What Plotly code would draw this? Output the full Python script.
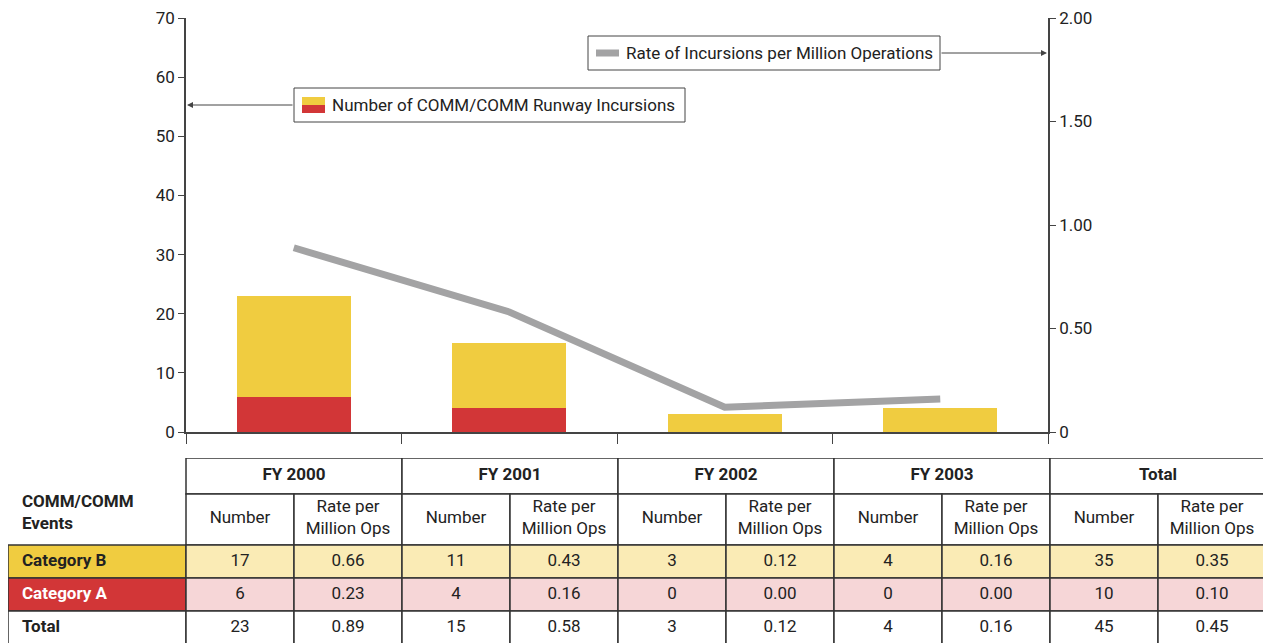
import plotly.graph_objects as go

years = ["FY 2000", "FY 2001", "FY 2002", "FY 2003"]
cat_b_count = [17, 11, 3, 4]
cat_a_count = [6, 4, 0, 0]
total_count = [23, 15, 3, 4]
cat_b_rate = [0.66, 0.43, 0.12, 0.16]
cat_a_rate = [0.23, 0.16, 0.00, 0.00]
total_rate = [0.89, 0.58, 0.12, 0.16]
all_years_count = [35, 10, 45]
all_years_rate = [0.35, 0.10, 0.45]
row_labels = ["Category B", "Category A", "Total"]

W, H = 1263, 643
FONT = "Roboto, Liberation Sans, sans-serif"
YELLOW = "#F0CC40"
RED = "#D23637"
LIGHT_YELLOW = "#FAEBB5"
LIGHT_RED = "#F6D6D7"
GRAY = "#A3A3A4"
INK = "#222222"
LINE = "#444444"
GRID = "#333333"


def px(x):
    return x / W


def py(y):
    return 1 - y / H


fig = go.Figure()

fig.add_bar(x=years, y=cat_a_count, marker_color=RED, marker_line_width=0,
            width=0.53, name="Category A")
fig.add_bar(x=years, y=cat_b_count, marker_color=YELLOW, marker_line_width=0,
            width=0.53, name="Category B")
fig.add_scatter(x=years, y=total_rate, yaxis="y2", mode="lines",
                line=dict(color=GRAY, width=7), name="Rate")

# ---- data table under the chart, on its own hidden axes ----
# x unit = one data column (108px), y unit = 1px from the table top
label_x0 = -(186 - 8) / 108
rows_y = [0, 36, 87, 120, 153, 186]
tab = dict(xref="x2", yref="y3", layer="below")

shapes = []
tx, ty, tt, tpos, tcol = [], [], [], [], []


def cell(x0, x1, r, fill="white", line=True):
    shapes.append(dict(type="rect", x0=x0, x1=x1, y0=rows_y[r], y1=rows_y[r + 1],
                       fillcolor=fill, line=dict(color=GRID if line else "rgba(0,0,0,0)",
                                                 width=1.5), **tab))


def text(x, y, s, pos="middle center", color=INK):
    tx.append(x)
    ty.append(y)
    tt.append(s)
    tpos.append(pos)
    tcol.append(color)


head_cols = years + ["Total"]
for k, name in enumerate(head_cols):
    cell(2 * k, 2 * k + 2, 0)
    text(2 * k + 1, 18, f"<b>{name}</b>")
    cell(2 * k, 2 * k + 1, 1)
    cell(2 * k + 1, 2 * k + 2, 1)
    text(2 * k + 0.5, 61, "Number")
    text(2 * k + 1.5, 61, "Rate per<br>Million Ops")

text(label_x0 + 14 / 108, 56, "<b>COMM/COMM<br>Events</b>", "middle right")

counts = [cat_b_count + [all_years_count[0]],
          cat_a_count + [all_years_count[1]],
          total_count + [all_years_count[2]]]
rates = [cat_b_rate + [all_years_rate[0]],
         cat_a_rate + [all_years_rate[1]],
         total_rate + [all_years_rate[2]]]
label_fill = [YELLOW, RED, "white"]
label_font = [INK, "white", INK]
row_fill = [LIGHT_YELLOW, LIGHT_RED, "white"]
for r in range(3):
    ri = r + 2
    yc = (rows_y[ri] + rows_y[ri + 1]) / 2
    cell(label_x0, 0, ri, label_fill[r])
    text(label_x0 + 14 / 108, yc, f"<b>{row_labels[r]}</b>", "middle right", label_font[r])
    for k in range(len(head_cols)):
        cell(2 * k, 2 * k + 1, ri, row_fill[r])
        cell(2 * k + 1, 2 * k + 2, ri, row_fill[r])
        text(2 * k + 0.5, yc, str(counts[r][k]))
        text(2 * k + 1.5, yc, f"{rates[r][k]:.2f}")

fig.add_scatter(x=tx, y=ty, text=tt, mode="text", textposition=tpos,
                textfont=dict(family=FONT, size=17, color=tcol),
                xaxis="x2", yaxis="y3", cliponaxis=False, hoverinfo="skip")

# legend boxes drawn as shapes + annotations, with arrows to their axes
shapes += [
    dict(type="rect", xref="paper", yref="paper", x0=px(294), x1=px(685),
         y0=py(122), y1=py(88), line=dict(color=LINE, width=1), fillcolor="white"),
    dict(type="rect", xref="paper", yref="paper", x0=px(302), x1=px(325),
         y0=py(105), y1=py(97), line_width=0, fillcolor=YELLOW),
    dict(type="rect", xref="paper", yref="paper", x0=px(302), x1=px(325),
         y0=py(113), y1=py(105), line_width=0, fillcolor=RED),
    dict(type="rect", xref="paper", yref="paper", x0=px(588), x1=px(940),
         y0=py(70), y1=py(36), line=dict(color=LINE, width=1), fillcolor="white"),
    dict(type="line", xref="paper", yref="paper", x0=px(596), x1=px(619),
         y0=py(53), y1=py(53), line=dict(color=GRAY, width=7)),
]
annotations = [
    dict(xref="paper", yref="paper", x=px(330), y=py(105), xanchor="left",
         yanchor="middle", text="Number of COMM/COMM Runway Incursions",
         showarrow=False, font=dict(family=FONT, size=17, color=INK)),
    dict(xref="paper", yref="paper", x=px(624), y=py(53), xanchor="left",
         yanchor="middle", text="Rate of Incursions per Million Operations",
         showarrow=False, font=dict(family=FONT, size=17, color=INK)),
    dict(xref="paper", yref="paper", x=px(187), y=py(105), text="",
         showarrow=True, ax=107, ay=0, arrowhead=2, arrowsize=1.2,
         arrowwidth=1, arrowcolor=LINE),
    dict(xref="paper", yref="paper", x=px(1047), y=py(53), text="",
         showarrow=True, ax=-107, ay=0, arrowhead=2, arrowsize=1.2,
         arrowwidth=1, arrowcolor=LINE),
]

axis_font = dict(family=FONT, size=17, color=INK)
fig.update_layout(
    width=W, height=H, autosize=False,
    margin=dict(l=0, r=0, t=0, b=0),
    paper_bgcolor="white", plot_bgcolor="white",
    barmode="stack", bargap=0, showlegend=False,
    shapes=shapes, annotations=annotations,
    xaxis=dict(domain=[px(186), px(1048)], range=[-0.5, 3.5], type="category",
               tickson="boundaries", ticks="outside", ticklen=10,
               tickcolor=LINE, showticklabels=False, showline=True,
               linecolor=LINE, linewidth=1.5, showgrid=False, automargin=False),
    yaxis=dict(domain=[py(432), py(18)], range=[0, 70], dtick=10,
               ticks="outside", ticklen=6, tickcolor=LINE, showline=True,
               linecolor=LINE, linewidth=1.5, showgrid=False, zeroline=False,
               tickfont=axis_font, automargin=False, ticklabeloverflow="allow"),
    yaxis2=dict(overlaying="y", side="right", range=[0, 2],
                tickvals=[0, 0.5, 1, 1.5, 2],
                ticktext=["0", "0.50", "1.00", "1.50", "2.00"],
                ticks="outside", ticklen=6, tickcolor=LINE, showline=True,
                linecolor=LINE, linewidth=1.5, showgrid=False, zeroline=False,
                tickfont=axis_font, automargin=False, ticklabeloverflow="allow"),
    xaxis2=dict(domain=[px(8), 1], range=[label_x0, (1263 - 186) / 108],
                anchor="y3", visible=False),
    yaxis3=dict(domain=[0, py(458)], range=[185, 0], anchor="x2", visible=False),
)

# drop the browser's default body margin so the figure fills the window
fig.write_html("out.html", config={"displayModeBar": False},
               post_script="document.body.style.margin='0';")
